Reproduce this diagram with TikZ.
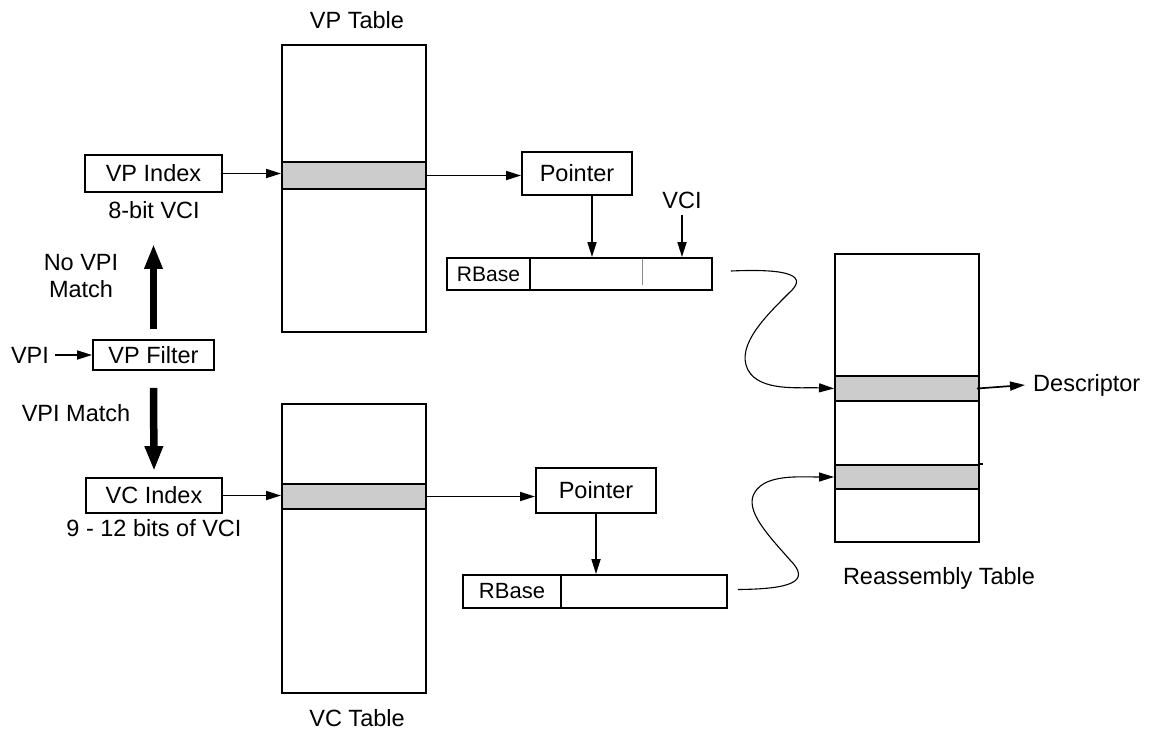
\documentclass[tikz,border=0pt]{standalone}
\usepackage{fontspec}
\setmainfont{Liberation Sans}
\usetikzlibrary{arrows.meta,calc}
\begin{document}
\begin{tikzpicture}[x=1pt,y=-1pt,
  every node/.style={font=\fontsize{23.5}{27}\selectfont, inner sep=0pt},
  box/.style={draw, line width=1.9pt, fill=white},
  band/.style={draw, line width=1.9pt, fill=black!20},
  lbl/.style={align=center},
  conn/.style={line width=1.7pt, -{Triangle[length=15pt,width=9pt]}},
  curv/.style={line width=1.1pt, -{Triangle[length=15pt,width=9pt]}},
  fat/.style={line width=7.5pt, -{Triangle[length=25pt,width=17pt]}}]
\useasboundingbox (0,0) rectangle (1155,732);
% tables
\node[box, minimum width=144pt, minimum height=287pt] (vptable) at (354,188.5) {};
\node[band, minimum width=144pt, minimum height=27pt] (vpband) at (354,175.5) {};
\node[box, minimum width=144pt, minimum height=289pt] (vctable) at (354,548.5) {};
\node[band, minimum width=144pt, minimum height=25pt] (vcband) at (354,496.5) {};
\node[box, minimum width=144pt, minimum height=288pt] (ratable) at (907,398) {};
\node[band, minimum width=144pt, minimum height=25pt] (raband1) at (907,388.5) {};
\node[band, minimum width=144pt, minimum height=24pt] (raband2) at (907,477) {};
\draw[line width=1.9pt] (raband2.north east) -- ++(3,0);
\node (vptlbl) at (357,20) {VP Table};
\node (vctlbl) at (357,718) {VC Table};
\node (ratlbl) at (939,578) {Reassembly Table};
% left side
\node[box, minimum width=137pt, minimum height=37pt] (vpindex) at (153.5,173.5) {VP Index};
\node (vpisub) at (154,210) {8-bit VCI};
\node[box, minimum width=121pt, minimum height=30pt] (vpfilter) at (153.5,355) {VP Filter};
\node (vpi) at (30,355) {VPI};
\node[lbl] (nomatch) at (81,276) {No VPI\\Match};
\node (match) at (76,413) {VPI Match};
\node[box, minimum width=136pt, minimum height=35pt] (vcindex) at (154,495.5) {VC Index};
\node (vcisub) at (154,528) {9 - 12 bits of VCI};
% pointers and RBase
\node[box, minimum width=110pt, minimum height=43pt] (ptr1) at (577,173.5) {Pointer};
\node (vci) at (682,200) {VCI};
\node[box, minimum width=265pt, minimum height=32pt] (rb1) at (579.5,274) {};
\node[box, minimum width=83pt, minimum height=32pt, font=\fontsize{21}{25}\selectfont] (rb1l) at (488.5,274) {RBase};
\draw[black!45, line width=1pt] (642,259) -- (642,285);
\node[box, minimum width=120pt, minimum height=45pt] (ptr2) at (596,490.5) {Pointer};
\node[box, minimum width=264pt, minimum height=33pt] (rb2) at (595,591.5) {};
\node[box, minimum width=98pt, minimum height=33pt, font=\fontsize{22}{26}\selectfont] (rb2l) at (512,591.5) {RBase};
\node[anchor=west] (desc) at (1033,385) {Descriptor};
% connectors
\draw[conn] (vpi.east) ++(6,0) -- (vpfilter.west);
\draw[fat] ([yshift=10pt]vpfilter.north) -- ([yshift=-51pt]vpindex.south);
\draw[fat] ([yshift=-17pt]vpfilter.south) -- ([yshift=6pt]vcindex.north);
\draw[conn] (vpindex.east) -- (vpindex.east -| vptable.west);
\draw[conn] (vcindex.east) -- (vcindex.east -| vctable.west);
\draw[conn] (vpband.east) -- (vpband.east -| ptr1.west);
\draw[conn] (vcband.east) -- (vcband.east -| ptr2.west);
\draw[conn] ([xshift=15pt]ptr1.south) -- ([xshift=15pt]ptr1.south |- rb1.north);
\draw[conn] ([yshift=-6pt]vci.south) -- (vci.south |- rb1.north);
\draw[conn] (ptr2.south) -- (ptr2.south |- rb2.north);
\draw[conn] ([xshift=-3pt]raband1.east) -- ([xshift=-8pt]desc.west);
\coordinate (c1) at ($(rb1.east)+(18,-3)$);
\coordinate (c2) at ($(rb2.east)+(10,-2)$);
\draw[curv] (c1) .. controls (775,269) and (812,272) .. (790,292)
  .. controls (768,314) and (735,345) .. (748,370)
  .. controls (760,392) and (800,387) .. (raband1.west);
\draw[curv] (c2) .. controls (790,589) and (812,582) .. (790,560)
  .. controls (770,537) and (743,510) .. (755,492)
  .. controls (766,474) and (800,477) .. (raband2.west);
\end{tikzpicture}
\end{document}
